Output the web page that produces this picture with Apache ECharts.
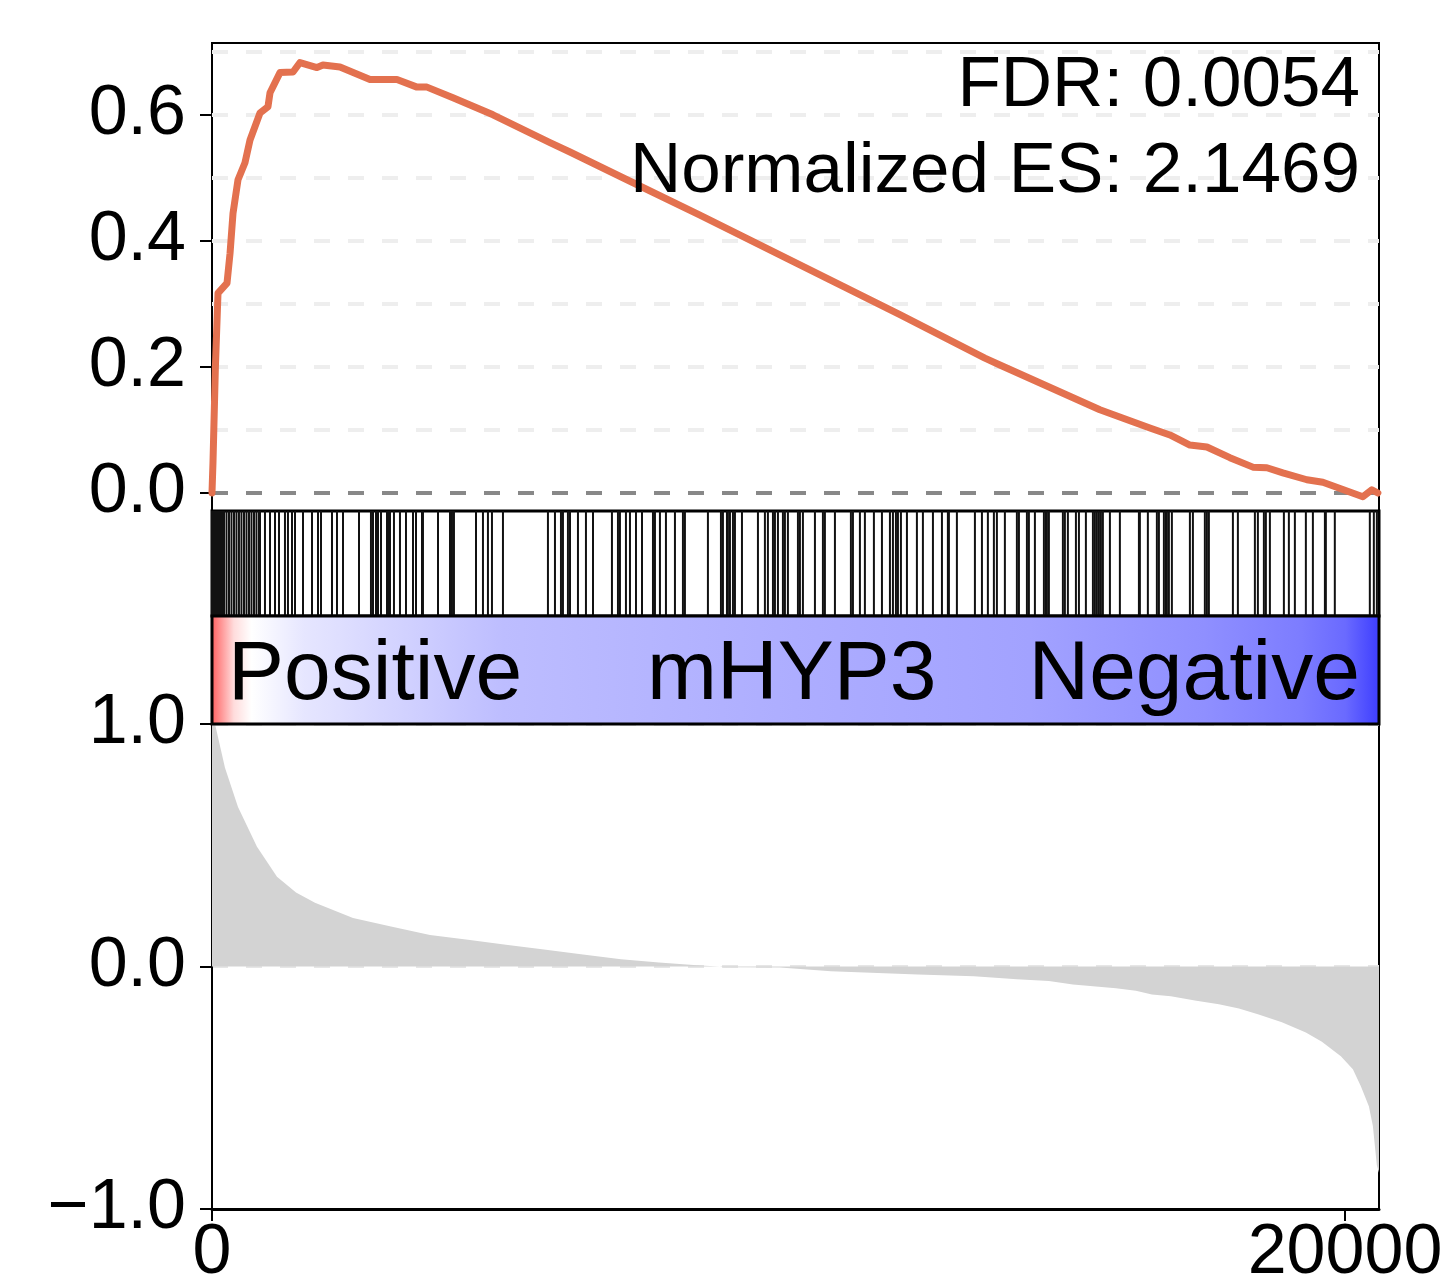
<!DOCTYPE html>
<html>
<head>
<meta charset="utf-8">
<title>GSEA enrichment plot</title>
<script src="https://cdn.jsdelivr.net/npm/echarts@6/dist/echarts.min.js"></script>
<style>
  html, body { margin: 0; padding: 0; background: #fff; }
  #chart { width: 1452px; height: 1280px; }
</style>
</head>
<body>
<div id="chart"></div>
<script>
// gene rank axis
const rankMax = 20600
const rankTicks = [0, 20000]

// running enrichment score
const esRank = [0, 18, 60, 106, 265, 318, 371, 459, 582, 671, 847, 988, 1024, 1200, 1430, 1553,
  1853, 1959, 2259, 2789, 3265, 3618, 3795, 4254, 4960, 5966, 6319, 7325, 8613, 10378, 12143,
  13643, 13908, 15673, 16556, 16909, 17262, 17562, 17968, 18374, 18621, 18903, 19327, 19609,
  20315, 20474, 20580]
const esScore = [0, 0.05, 0.2, 0.317, 0.333, 0.38, 0.444, 0.497, 0.524, 0.56, 0.603, 0.613, 0.635,
  0.667, 0.668, 0.683, 0.675, 0.679, 0.676, 0.656, 0.656, 0.644, 0.644, 0.627, 0.6, 0.556, 0.541,
  0.497, 0.441, 0.362, 0.283, 0.214, 0.203, 0.132, 0.103, 0.092, 0.076, 0.073, 0.056, 0.041, 0.04,
  0.032, 0.021, 0.017, -0.006, 0.005, 0]
const esTicks = [0, 0.2, 0.4, 0.6]
const esGridLines = [0.1, 0.2, 0.3, 0.4, 0.5, 0.6, 0.7]

// positions of gene set members in the ranked list
const hitRank = [0, 18, 35, 53, 71, 88, 106, 124, 141, 177, 212, 256, 300, 344, 388, 432, 476, 520,
  565, 609, 653, 697, 741, 785, 830, 847, 935, 1024, 1112, 1183, 1288, 1341,
  1412, 1465, 1606, 1765, 1871, 1924, 2118, 2206, 2312, 2595, 2806, 2842, 2895, 2930, 2983, 3089,
  3124, 3142, 3212, 3318, 3424, 3548, 3601, 3707, 3724, 3989, 4201, 4236, 4271, 4660, 4783, 4871,
  4942, 5136, 5930, 6054, 6160, 6195, 6283, 6319, 6460, 6601, 6725, 7060, 7166, 7201, 7307, 7378,
  7484, 7590, 7784, 7819, 7907, 8013, 8172, 8313, 8348, 8754, 8984, 9019, 9090, 9107, 9143, 9196,
  9231, 9355, 9637, 9760, 9813, 9902, 9937, 9990, 10078, 10113, 10166, 10343, 10378, 10431, 10643,
  10784, 10819, 10996, 11278, 11314, 11437, 11525, 11684, 11826, 11967, 12020, 12073, 12108, 12161,
  12267, 12443, 12549, 12726, 12885, 12990, 13008, 13149, 13467, 13591, 13696, 13802, 13855, 13996,
  14208, 14244, 14385, 14420, 14526, 14685, 14720, 14738, 14773, 15020, 15055, 15108, 15250, 15303,
  15426, 15550, 15585, 15620, 15656, 15691, 15726, 15850, 16026, 16362, 16379, 16520, 16679, 16715,
  16803, 16838, 16856, 16891, 16944, 17262, 17315, 17526, 17562, 17597, 18021, 18109, 18409, 18462,
  18568, 18603, 18674, 18921, 19009, 19115, 19309, 19433, 19645, 19662, 19820, 20438, 20509, 20562]

// ranked list metric
const metricRank = [0, 53, 229, 459, 794, 1147, 1483, 1818, 2489, 3159, 3848, 4518, 5189, 5860,
  6548, 7219, 7890, 8560, 8701, 8966, 9037, 10025, 10925, 12461, 13449, 14208, 14773, 15197, 15603,
  15956, 16309, 16591, 16926, 17350, 17774, 18127, 18462, 18886, 19309, 19592, 19927, 20139, 20280,
  20421, 20492, 20562, 20600]
const metricValue = [1.5, 1.0, 0.82, 0.658, 0.494, 0.37, 0.305, 0.263, 0.2, 0.165, 0.13, 0.11, 0.09,
  0.07, 0.05, 0.03, 0.016, 0.005, 0.003, 0, -0.003, -0.004, -0.02, -0.033, -0.04, -0.053, -0.06,
  -0.074, -0.082, -0.09, -0.1, -0.115, -0.123, -0.14, -0.156, -0.173, -0.197, -0.23, -0.272, -0.31,
  -0.37, -0.424, -0.494, -0.576, -0.658, -0.82, -0.85]
const metricTicks = [-1, 0, 1]

// phenotype bar
const phenoLabels = ['Positive', 'mHYP3', 'Negative']
const phenoStops = [0, 0.02, 0.035, 0.08, 0.25, 0.5, 0.7, 0.85, 0.93, 0.97, 1]
const phenoColors = ['#ff5959', '#ffdcdc', '#ffffff', '#e6e6ff', '#bdbdff', '#adadff', '#a2a2ff',
  '#8f8fff', '#7d7dff', '#6a6aff', '#3c3cff']

// statistics
const fdr = '0.0054'
const nes = '2.1469'

const FONT = 'Liberation Sans, Arial, Helvetica, sans-serif'
const chart = echarts.init(document.getElementById('chart'), null, { renderer: 'canvas' })

const fmt = v => (v < 0 ? '\u2212' + Math.abs(v).toFixed(1) : v.toFixed(1))
const axisLabelStyle = { color: '#000', fontSize: 70, fontFamily: FONT }

// fixed panel boxes, labels are allowed to run off the canvas like the original
const gridBox = {
  left: 212, width: 1167, show: true, borderColor: '#000', borderWidth: 2,
  backgroundColor: 'transparent', outerBoundsMode: 'none', containLabel: false
}

const option = {
  animation: false,
  backgroundColor: '#fff',
  grid: [
    Object.assign({ top: 43, height: 468 }, gridBox),
    Object.assign({ top: 511, height: 105 }, gridBox, { borderWidth: 3 }),
    Object.assign({ top: 616, height: 108 }, gridBox, { show: false }),
    Object.assign({ top: 724, height: 485 }, gridBox)
  ],
  xAxis: [
    { gridIndex: 0, type: 'value', min: 0, max: rankMax, show: false },
    { gridIndex: 1, type: 'value', min: 0, max: rankMax, show: false },
    { gridIndex: 2, type: 'value', min: 0, max: rankMax, show: false },
    {
      gridIndex: 3, type: 'value', min: 0, max: rankMax,
      axisLine: { onZero: false, lineStyle: { color: '#000', width: 3 } },
      axisTick: { customValues: rankTicks, length: 12, lineStyle: { color: '#000', width: 2 } },
      axisLabel: Object.assign({ customValues: rankTicks, margin: 10, formatter: v => String(v) }, axisLabelStyle),
      splitLine: { show: false }
    }
  ],
  yAxis: [
    {
      gridIndex: 0, type: 'value', min: -0.0286, max: 0.714,
      axisLine: { show: true, lineStyle: { color: '#000', width: 2 } },
      axisTick: { show: true, customValues: esTicks, length: 12, lineStyle: { color: '#000', width: 2 } },
      axisLabel: Object.assign({ customValues: esTicks, margin: 26, formatter: fmt }, axisLabelStyle),
      splitLine: { show: false }
    },
    { gridIndex: 1, type: 'value', min: 0, max: 1, show: false },
    { gridIndex: 2, type: 'value', min: 0, max: 1, show: false },
    {
      gridIndex: 3, type: 'value', min: -1, max: 1, interval: 0.5,
      axisLine: { show: true, onZero: false, lineStyle: { color: '#000', width: 2 } },
      axisTick: { show: true, customValues: metricTicks, length: 12, lineStyle: { color: '#000', width: 2 } },
      axisLabel: Object.assign({ customValues: metricTicks, margin: 26, formatter: fmt }, axisLabelStyle),
      splitLine: { show: true, lineStyle: { color: '#e6e6e6', width: 3, type: [16, 18] } }
    }
  ],
  series: [
    {
      name: 'ES', type: 'line', xAxisIndex: 0, yAxisIndex: 0,
      data: esRank.map((r, i) => [r, esScore[i]]),
      showSymbol: false, symbol: 'none',
      lineStyle: { color: '#e3714f', width: 7, join: 'round', cap: 'round' },
      z: 5,
      markLine: {
        silent: true, symbol: 'none', label: { show: false },
        data: esGridLines.map(v => ({ yAxis: v, lineStyle: { color: '#eeeeee', width: 4, type: [16, 18] } }))
          .concat([{ yAxis: 0, lineStyle: { color: '#888888', width: 4, type: [16, 18] } }])
      }
    },
    {
      name: 'hits', type: 'custom', xAxisIndex: 1, yAxisIndex: 1,
      data: hitRank.map(r => [r]),
      renderItem: (params, api) => {
        const a = api.coord([api.value(0), 1])
        const b = api.coord([api.value(0), 0])
        return {
          type: 'line',
          shape: { x1: a[0], y1: a[1], x2: b[0], y2: b[1] },
          style: { stroke: '#111', lineWidth: 2 }
        }
      }
    },
    {
      name: 'phenotype', type: 'custom', xAxisIndex: 2, yAxisIndex: 2,
      data: [[0, rankMax]],
      renderItem: (params, api) => {
        const a = api.coord([api.value(0), 1])
        const b = api.coord([api.value(1), 0])
        return {
          type: 'rect',
          shape: { x: a[0], y: a[1], width: b[0] - a[0], height: b[1] - a[1] },
          style: {
            fill: new echarts.graphic.LinearGradient(0, 0, 1, 0,
              phenoStops.map((o, i) => ({ offset: o, color: phenoColors[i] }))),
            stroke: '#000', lineWidth: 3
          }
        }
      },
      z: 3
    },
    {
      name: 'metric', type: 'line', xAxisIndex: 3, yAxisIndex: 3,
      data: metricRank.map((r, i) => [r, metricValue[i]]),
      showSymbol: false, symbol: 'none',
      lineStyle: { width: 0 },
      areaStyle: { color: '#d3d3d3', opacity: 1 },
      z: 2
    }
  ],
  graphic: [
    { type: 'text', right: 1452 - 1360, top: 51, style: { text: 'FDR: ' + fdr, fill: '#000', font: '71px ' + FONT, textAlign: 'right' }, z: 10 },
    { type: 'text', right: 1452 - 1360, top: 137, style: { text: 'Normalized ES: ' + nes, fill: '#000', font: '71px ' + FONT, textAlign: 'right' }, z: 10 },
    { type: 'text', left: 228, top: 634, style: { text: phenoLabels[0], fill: '#000', font: '84px ' + FONT }, z: 10 },
    { type: 'text', left: 647, top: 634, style: { text: phenoLabels[1], fill: '#000', font: '84px ' + FONT }, z: 10 },
    { type: 'text', right: 1452 - 1360, top: 634, style: { text: phenoLabels[2], fill: '#000', font: '84px ' + FONT, textAlign: 'right' }, z: 10 }
  ]
}

chart.setOption(option)
</script>
</body>
</html>
